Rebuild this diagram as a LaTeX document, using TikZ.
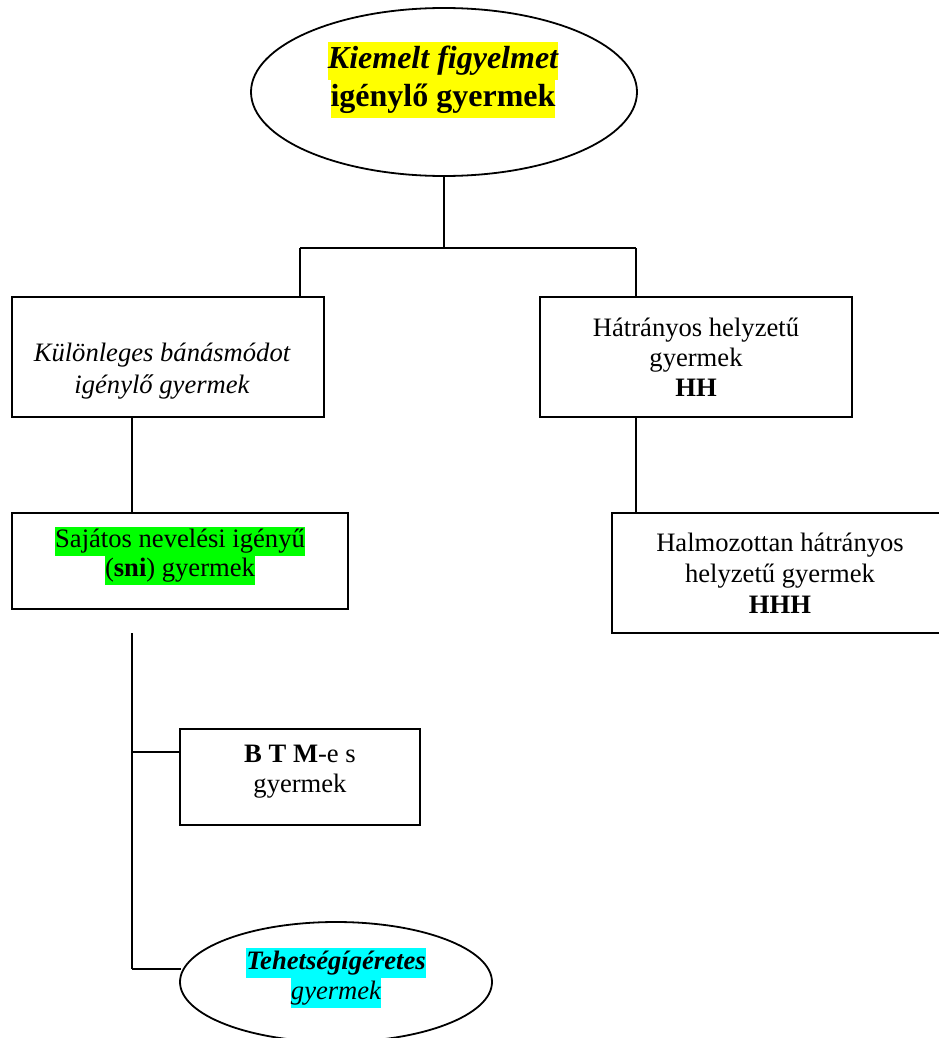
\documentclass[tikz,border=0pt]{standalone}
\usepackage{fontspec}
\setmainfont{Liberation Serif}
\usetikzlibrary{shapes.geometric}
\definecolor{hlyellow}{HTML}{FFFF00}
\definecolor{hlgreen}{HTML}{00FF00}
\definecolor{hlcyan}{HTML}{00FFFF}
\newcommand\hlt[2]{{\setlength{\fboxsep}{0pt}\colorbox{#1}{\strut #2}}}
\begin{document}
\begin{tikzpicture}[x=1pt,y=-1pt,
  boxshape/.style={draw,line width=1.8pt,rectangle,inner sep=0pt},
  ovalshape/.style={draw,line width=1.8pt,ellipse,inner sep=0pt},
  txt/.style={align=center,inner sep=0pt,font=\fontsize{26.6}{30}\selectfont},
  bigtxt/.style={align=center,inner sep=0pt,font=\fontsize{32}{38}\selectfont\bfseries},
  conn/.style={line width=1.8pt}]
\useasboundingbox (0,0) rectangle (939,1038);
% shapes
\node[ovalshape,minimum width=386pt,minimum height=168pt] (top) at (444,92) {};
\node[boxshape,minimum width=312pt,minimum height=120pt] (kb) at (168,357) {};
\node[boxshape,minimum width=312pt,minimum height=120pt] (hh) at (696,357) {};
\node[boxshape,minimum width=336pt,minimum height=96pt] (sni) at (180,561) {};
\node[boxshape,minimum width=330pt,minimum height=120pt] (hhh) at (777,573) {};
\node[boxshape,minimum width=240pt,minimum height=96pt] (btm) at (300,777) {};
\node[ovalshape,minimum width=312pt,minimum height=120pt] (teh) at (336,982) {};
% texts
\node[bigtxt] (toptxt) at (443,80) {\hlt{hlyellow}{\itshape Kiemelt figyelmet}\\\hlt{hlyellow}{igénylő gyermek}};
\node[txt,font=\fontsize{26.6}{32}\selectfont\itshape] (kbtxt) at (162,371) {Különleges bánásmódot\\igénylő gyermek};
\node[txt] (hhtxt) at (696,357) {Hátrányos helyzetű\\gyermek\\\textbf{HH}};
\node[txt,font=\fontsize{26.6}{29}\selectfont] (snitxt) at (180,556) {\hlt{hlgreen}{Sajátos nevelési igényű}\\\hlt{hlgreen}{(\textbf{sni}) gyermek}};
\node[txt,font=\fontsize{26.6}{31}\selectfont] (hhhtxt) at (780,573) {Halmozottan hátrányos\\helyzetű gyermek\\\textbf{HHH}};
\node[txt] (btmtxt) at (300,772) {\textbf{B T M}-e s\\gyermek};
\node[txt] (tehtxt) at (336,978) {\hlt{hlcyan}{\bfseries\itshape Tehetségígéretes}\\\hlt{hlcyan}{\itshape gyermek}};
% connector points
\coordinate (jm) at (444,248);
\coordinate (jl) at (300,248);
\coordinate (jr) at (636,248);
\coordinate (lx) at (132,0);
\coordinate (rx) at (636,0);
\coordinate (v0) at (132,633);
\coordinate (vb) at (132,752);
\coordinate (ve) at (132,969);
\coordinate (ee) at (181,969);
% connectors
\draw[conn] (top.south) -- (jm);
\draw[conn] (jl) -- (jr);
\draw[conn] (jl) -- (jl |- kb.north);
\draw[conn] (jr) -- (jr |- hh.north);
\draw[conn] (kb.south -| lx) -- (sni.north -| lx);
\draw[conn] (hh.south -| rx) -- (hhh.north -| rx);
\draw[conn] (v0) -- (ve);
\draw[conn] (vb) -- (btm.west |- vb);
\draw[conn] (ve) -- (ee);
\end{tikzpicture}
\end{document}
